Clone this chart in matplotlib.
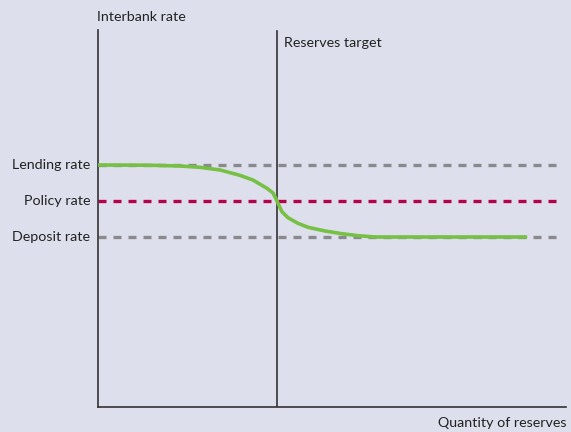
import numpy as np
import matplotlib.pyplot as plt

plt.rcParams['font.family'] = ['Lato', 'DejaVu Sans']

# rates (arbitrary units) and reserves target position
rate_names = ['Lending rate', 'Policy rate', 'Deposit rate']
rate_levels = [3.0, 2.0, 1.0]
reserves_target = 38.25

# demand curve for reserves
curve_x = [0, 11.1, 17.5, 21.8, 26.1, 30.3, 33.1, 36.1, 37.4, 37.8, 38.25,
           38.8, 39.3, 40.6, 42.7, 44.9, 48.5, 52.1, 55.6, 59.2, 91.7]
curve_y = [3.0, 2.994, 2.972, 2.936, 2.861, 2.714, 2.583, 2.353, 2.222,
           2.12, 2.0, 1.84, 1.703, 1.536, 1.381, 1.269, 1.167, 1.092,
           1.036, 1.0, 1.0]

bg = '#dde0ec'
W, H = 571, 432
fig = plt.figure(figsize=(W / 100, H / 100), dpi=100, facecolor=bg)
ax = fig.add_axes([98 / W, 1 - 407 / H, 468 / W, 377 / H])
ax.set_facecolor(bg)
ax.set_xlim(0, 100)
ax.set_ylim(1 - 170 / 36, 3 + 135 / 36)

for s in ['top', 'right']:
    ax.spines[s].set_visible(False)
for s in ['left', 'bottom']:
    ax.spines[s].set_color('#333333')
    ax.spines[s].set_linewidth(1.2)
ax.set_xticks([])
ax.set_yticks([])

dash_cols = ['#8a8a8e', '#b5004b', '#8a8a8e']
for lvl, c in zip(rate_levels, dash_cols):
    ax.plot([0, 98.3], [lvl, lvl], color=c, lw=2.4, ls=(0, (2.4, 2.1)),
            solid_capstyle='butt', zorder=2)

ax.plot([reserves_target, reserves_target], [ax.get_ylim()[0], 6.72],
        color='#333333', lw=1.2, zorder=3)

ax.plot(curve_x, curve_y, color='#76c043', lw=2.6, zorder=4,
        solid_capstyle='butt', solid_joinstyle='round')

for name, lvl in zip(rate_names, rate_levels):
    ax.text(-1.7, lvl, name, ha='right', va='center', fontsize=10.3,
            color='#222222')

fig.text(97 / W, 1 - 17 / H, 'Interbank rate', ha='left', va='center',
         fontsize=10.3, color='#222222')
ax.text(reserves_target + 1.5, 6.4, 'Reserves target', ha='left',
        va='center', fontsize=10.3, color='#222222')
fig.text(566 / W, 1 - 423 / H, 'Quantity of reserves', ha='right',
         va='center', fontsize=10.3, color='#222222')

fig.savefig('out.png', dpi=100, facecolor=bg)
